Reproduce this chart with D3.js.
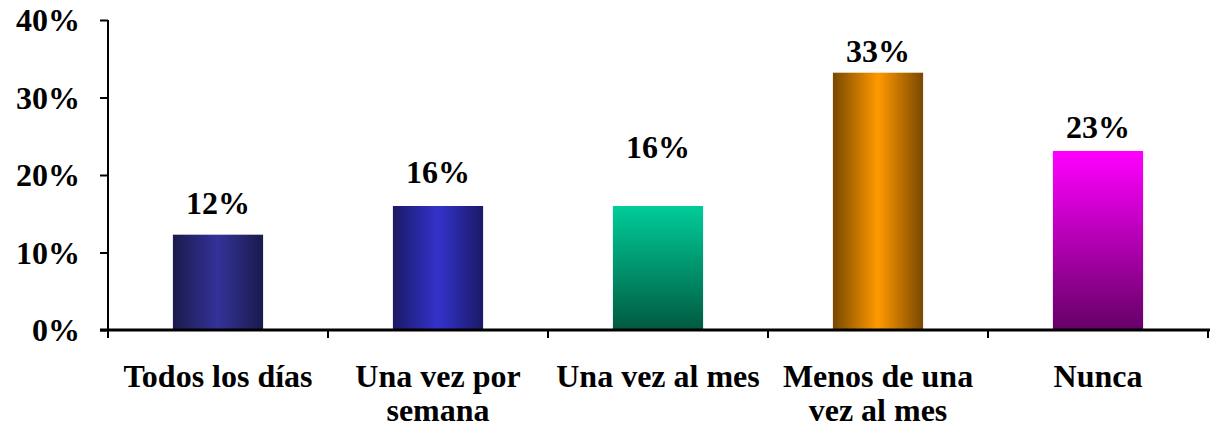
<!DOCTYPE html>
<html><head><meta charset="utf-8">
<script src="https://cdn.jsdelivr.net/npm/d3@7"></script>
<style>body{margin:0;background:#fff}svg{display:block}</style>
</head><body>
<svg id="c" width="1210" height="427"></svg>
<script>
const categories = [["Todos los días"], ["Una vez por", "semana"], ["Una vez al mes"], ["Menos de una", "vez al mes"], ["Nunca"]];
const values = [12.3, 16, 16, 33.2, 23.1];
const valueLabels = ["12%", "16%", "16%", "33%", "23%"];
const labelAt = [15.0, 19.0, 22.15, 34.6, 24.8];
const yTicks = [0, 10, 20, 30, 40];
const gradients = [
  {dir: "h", stops: ["#1a1a4d", "#333399", "#1a1a4d"]},
  {dir: "h", stops: ["#1a1a66", "#3333cc", "#1a1a66"]},
  {dir: "v", stops: ["#00cc99", "#005a40"]},
  {dir: "h", stops: ["#7a4800", "#ff9900", "#7a4800"]},
  {dir: "v", stops: ["#ff00ff", "#660066"]}
];

const svg = d3.select("#c");
const mLeft = 108, mRight = 1208, mTop = 20, mBottom = 330;
const font = "Liberation Serif, Times New Roman, serif";
const fs = 32;

const x = d3.scaleBand().domain(d3.range(categories.length)).range([mLeft, mRight]).paddingInner(0.59).paddingOuter(0.295);
const xb = d3.scaleBand().domain(d3.range(categories.length)).range([mLeft, mRight]);
const y = d3.scaleLinear().domain([0, 40]).range([mBottom, mTop]);

const defs = svg.append("defs");
gradients.forEach((g, i) => {
  const lg = defs.append("linearGradient").attr("id", "g" + i)
    .attr("x1", 0).attr("y1", 0)
    .attr("x2", g.dir === "h" ? 1 : 0).attr("y2", g.dir === "h" ? 0 : 1);
  g.stops.forEach((c, j) => lg.append("stop").attr("offset", j / (g.stops.length - 1)).attr("stop-color", c));
});

svg.selectAll("rect.bar").data(values).join("rect").attr("class", "bar")
  .attr("x", (d, i) => x(i)).attr("width", x.bandwidth())
  .attr("y", d => y(d)).attr("height", d => y(0) - y(d))
  .attr("fill", (d, i) => `url(#g${i})`);

// y axis
const ya = svg.append("g").attr("transform", `translate(${mLeft},0)`)
  .call(d3.axisLeft(y).tickValues(yTicks).tickFormat(d => d + "%").tickSize(8).tickPadding(20));
ya.select(".domain").attr("stroke", "#000").attr("stroke-width", 2).attr("d", `M0,${mTop}V${mBottom}`);
ya.selectAll(".tick line").attr("stroke", "#000").attr("stroke-width", 2);
ya.selectAll("text").attr("font-family", font).attr("font-weight", "bold").attr("font-size", fs).attr("fill", "#000").attr("dy", "0.33em");

// x axis
const xa = svg.append("g").attr("transform", `translate(0,${mBottom})`);
xa.append("line").attr("x1", mLeft - 8).attr("x2", mRight + 2).attr("stroke", "#000").attr("stroke-width", 3);
xa.selectAll("line.t").data(d3.range(categories.length + 1)).join("line").attr("class", "t")
  .attr("x1", i => i < categories.length ? xb(i) : mRight).attr("x2", i => i < categories.length ? xb(i) : mRight)
  .attr("y1", 0).attr("y2", 8).attr("stroke", "#000").attr("stroke-width", 2);
xa.selectAll("text.cat").data(categories).join("text").attr("class", "cat")
  .attr("x", (d, i) => xb(i) + xb.bandwidth() / 2).attr("y", 57)
  .attr("text-anchor", "middle").attr("font-family", font).attr("font-weight", "bold").attr("font-size", fs)
  .each(function(d) {
    d3.select(this).selectAll("tspan").data(d).join("tspan")
      .attr("x", d3.select(this).attr("x")).attr("dy", (t, k) => k ? 34 : 0).text(t => t);
  });

svg.selectAll("text.val").data(valueLabels).join("text").attr("class", "val")
  .attr("x", (d, i) => x(i) + x.bandwidth() / 2).attr("y", (d, i) => y(labelAt[i]))
  .attr("text-anchor", "middle").attr("font-family", font).attr("font-weight", "bold").attr("font-size", fs)
  .text(d => d);
</script>
</body></html>
